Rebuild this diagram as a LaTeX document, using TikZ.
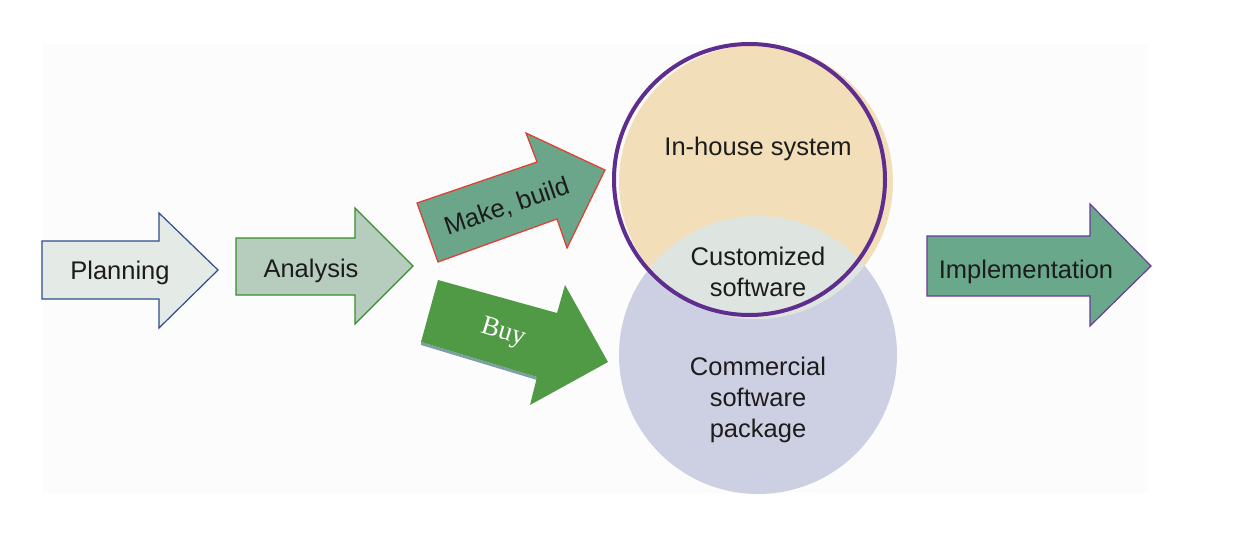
\documentclass[tikz,border=0pt]{standalone}
\usepackage{fontspec}
\setmainfont{Liberation Sans}
\newfontfamily\buyfont{Liberation Serif}
\definecolor{bgc}{HTML}{FCFCFC}
\definecolor{planfill}{HTML}{E4EAE6}
\definecolor{planline}{HTML}{2E4C8C}
\definecolor{anafill}{HTML}{B6CDBD}
\definecolor{analine}{HTML}{3A8C2E}
\definecolor{makefill}{HTML}{6BA58A}
\definecolor{makeline}{HTML}{E63A2E}
\definecolor{buyfill}{HTML}{519A45}
\definecolor{buyshadow}{HTML}{7E9EA8}
\definecolor{implfill}{HTML}{6AA88B}
\definecolor{implline}{HTML}{6A3A9C}
\definecolor{beige}{HTML}{F2DFBA}
\definecolor{lavender}{HTML}{CDD0E3}
\definecolor{overlap}{HTML}{DEE5E1}
\definecolor{ringc}{HTML}{5E2D8E}
\definecolor{txt}{HTML}{1C1C1C}
\begin{document}
\begin{tikzpicture}[x=1pt,y=-1pt,
  lbl/.style={font=\fontsize{25.5}{30}\selectfont, text=txt, inner sep=0pt},
  arrowshape/.style={line width=1.2pt, line join=miter}]
\useasboundingbox (0,0) rectangle (1240,554);
\fill[bgc] (42,44) rectangle (1148,493);

% Planning
\filldraw[arrowshape, fill=planfill, draw=planline]
  (42,241) -- (159,241) -- (159,213) -- (218,270) -- (159,328) -- (159,299) -- (42,299) -- cycle;
\node[lbl, anchor=base] (planning) at (120,279) {Planning};

% Analysis
\filldraw[arrowshape, fill=anafill, draw=analine]
  (236,238) -- (355,238) -- (355,208) -- (413,266) -- (355,324) -- (355,295) -- (236,295) -- cycle;
\node[lbl, anchor=base] (analysis) at (311,277) {Analysis};

% Make, build
\filldraw[arrowshape, fill=makefill, draw=makeline]
  (417,203) -- (537,162) -- (526,133) -- (605,170) -- (567,248) -- (557,219) -- (438,262) -- cycle;
\node[lbl, rotate=19] (make) at (507,207) {Make, build};

% Buy
\fill[buyshadow] (421,342) -- (537,377) -- (537,380) -- (421,345) -- cycle;
\fill[buyfill]
  (438,280) -- (557,313) -- (565,285) -- (608,362) -- (530,405) -- (537,377) -- (421,342) -- cycle;
\node[font=\buyfont\fontsize{27}{30}\selectfont, text=white, inner sep=0pt, rotate=-17] (buy) at (503,333) {Buy};

% Circles
\fill[lavender] (758,355) circle[radius=139];
\fill[beige] (756,182) circle[radius=137];
\begin{scope}
  \clip (758,355) circle[radius=139];
  \fill[overlap] (756,182) circle[radius=137];
\end{scope}
\draw[ringc, line width=4pt] (749.5,179.5) circle[radius=135.5];

\node[lbl, anchor=base] (inhouse) at (758,155) {In-house system};
\node[lbl, anchor=base] (custom1) at (758,265) {Customized};
\node[lbl, anchor=base] (custom2) at (758,296) {software};
\node[lbl, anchor=base] (comm1) at (758,375) {Commercial};
\node[lbl, anchor=base] (comm2) at (758,406) {software};
\node[lbl, anchor=base] (comm3) at (758,437) {package};

% Implementation
\filldraw[arrowshape, fill=implfill, draw=implline]
  (927,236) -- (1090,236) -- (1090,204) -- (1151,266) -- (1090,326) -- (1090,296) -- (927,296) -- cycle;
\node[lbl, anchor=base] (impl) at (1026,278) {Implementation};
\end{tikzpicture}
\end{document}
